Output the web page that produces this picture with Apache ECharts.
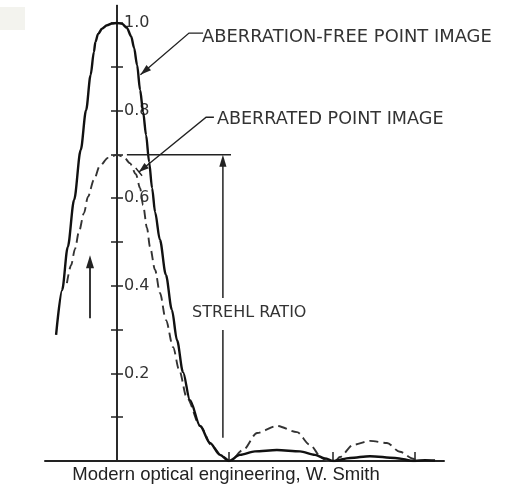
<!DOCTYPE html>
<html>
<head>
<meta charset="utf-8">
<script src="https://cdn.jsdelivr.net/npm/echarts@6/dist/echarts.min.js"></script>
<style>
  html, body { margin: 0; padding: 0; background: #ffffff; }
  #main { width: 506px; height: 486px; }
</style>
</head>
<body>
<div id="main"></div>
<script>
// Radial distance from the image centre (arbitrary units) and relative irradiance.
const freeR = [-2.03, -1.83, -1.64, -1.43, -1.21, -1.03, -0.88, -0.77, -0.72, -0.63, -0.50, -0.33, -0.17, 0.00,
  0.17, 0.33, 0.47, 0.57, 0.67, 0.77, 0.87, 0.97, 1.07, 1.17, 1.27, 1.43, 1.63, 1.83, 2.00, 2.20, 2.43, 2.77, 3.10, 3.43, 3.73,
  4.10, 4.60, 5.33, 6.10, 6.60, 6.93, 7.20,
  7.77, 8.43, 9.27, 9.93, 10.27, 10.60];
const freeI = [0.288, 0.390, 0.489, 0.596, 0.710, 0.801, 0.881, 0.934, 0.957, 0.975, 0.987, 0.995, 0.999, 1.000,
  0.998, 0.989, 0.970, 0.943, 0.904, 0.847, 0.797, 0.744, 0.683, 0.623, 0.568, 0.505, 0.425, 0.345, 0.276, 0.203, 0.139, 0.080, 0.041, 0.014, 0.000,
  0.014, 0.022, 0.025, 0.022, 0.014, 0.006, 0.000,
  0.007, 0.011, 0.007, 0.000, 0.002, 0.001];

const aberR = [-1.67, -1.53, -1.40, -1.27, -1.10, -0.97, -0.77, -0.57, -0.30, 0.00,
  0.23, 0.43, 0.63, 0.77, 0.87, 1.00, 1.10, 1.27, 1.43, 1.63, 1.87, 2.07, 2.33, 2.77, 3.17, 3.50, 3.77,
  4.20, 4.67, 5.33, 6.00, 6.43, 6.83, 7.00,
  7.27, 7.43, 7.87, 8.43, 9.00, 9.43, 9.87, 10.03];
const aberI = [0.406, 0.447, 0.484, 0.523, 0.566, 0.603, 0.642, 0.674, 0.692, 0.699,
  0.694, 0.680, 0.655, 0.623, 0.584, 0.532, 0.489, 0.436, 0.384, 0.322, 0.260, 0.208, 0.144, 0.080, 0.034, 0.011, 0.000,
  0.025, 0.064, 0.080, 0.066, 0.037, 0.007, 0.000,
  0.000, 0.009, 0.037, 0.046, 0.041, 0.021, 0.005, 0.000];

// Axis furniture
const yTickValues = [0.1, 0.2, 0.3, 0.4, 0.5, 0.6, 0.7, 0.8, 0.9, 1.0];
const yLabelValues = [0.2, 0.4, 0.6, 0.8, 1.0];
const zeroCrossings = [3.73, 7.20, 9.93];

const labelFree = 'ABERRATION-FREE POINT IMAGE';
const labelAber = 'ABERRATED POINT IMAGE';
const labelStrehl = 'STREHL RATIO';
const caption = 'Modern optical engineering, W. Smith';

const zip = (a, b) => a.map((v, i) => [v, b[i]]);

const INK = '#222';
const LETTER_FONT = 'DejaVu Sans';

const W = 506;
const GRID = { left: 45, right: 62, top: 5.5, bottom: 25 };
const xRange = { min: -2.4, max: 10.9 };
const yRange = { min: 0, max: 1.04 };

// the intensity axis stands on the image centre (r = 0)
const plotWidth = W - GRID.left - GRID.right;
const centreShift = -(0 - xRange.min) / (xRange.max - xRange.min) * plotWidth;

const chart = echarts.init(document.getElementById('main'), null, { renderer: 'canvas' });

const yAxisBase = {
  type: 'value', min: yRange.min, max: yRange.max, position: 'left', offset: centreShift,
  axisLine: { show: true, onZero: false, lineStyle: { color: INK, width: 1.6 } },
  splitLine: { show: false }
};

chart.setOption({
  animation: false,
  backgroundColor: '#ffffff',
  grid: Object.assign({ containLabel: false, outerBoundsMode: 'none' }, GRID),
  xAxis: {
    type: 'value', min: xRange.min, max: xRange.max, position: 'bottom',
    axisLine: { show: true, onZero: false, lineStyle: { color: INK, width: 2 } },
    axisTick: { show: true, inside: true, length: 9, customValues: zeroCrossings, lineStyle: { color: INK, width: 1.5 } },
    axisLabel: { show: false },
    splitLine: { show: false }
  },
  yAxis: [
    Object.assign({}, yAxisBase, {
      axisTick: { show: true, inside: false, length: 6, customValues: yTickValues, lineStyle: { color: INK, width: 1.5 } },
      axisLabel: {
        show: true, inside: true, margin: 7, customValues: yLabelValues,
        formatter: v => v.toFixed(1),
        fontFamily: LETTER_FONT, fontSize: 16, color: '#333'
      }
    }),
    Object.assign({}, yAxisBase, {
      axisTick: { show: true, inside: true, length: 6, customValues: yTickValues, lineStyle: { color: INK, width: 1.5 } },
      axisLabel: { show: false }
    })
  ],
  series: [
    {
      name: labelFree, type: 'line', yAxisIndex: 0,
      data: zip(freeR, freeI), showSymbol: false, smooth: 0.3, smoothMonotone: 'x',
      lineStyle: { color: '#111', width: 2.4 }, z: 3
    },
    {
      name: labelAber, type: 'line', yAxisIndex: 0,
      data: zip(aberR, aberI), showSymbol: false, smooth: 0.3, smoothMonotone: 'x',
      lineStyle: { color: '#333', width: 1.9, type: [9, 5] }, z: 2
    }
  ]
});

// Annotations placed in data space
const P = (u, v) => chart.convertToPixel({ xAxisIndex: 0, yAxisIndex: 0 }, [u, v]);

function arrowHead(tip, from, len, half) {
  const dx = tip[0] - from[0], dy = tip[1] - from[1];
  const d = Math.hypot(dx, dy);
  const ux = dx / d, uy = dy / d;
  const bx = tip[0] - ux * len, by = tip[1] - uy * len;
  return {
    type: 'polygon', z: 100,
    shape: { points: [tip, [bx - uy * half, by + ux * half], [bx + uy * half, by - ux * half]] },
    style: { fill: INK }
  };
}
const seg = (pts, w) => ({
  type: 'polyline', z: 100,
  shape: { points: pts },
  style: { stroke: INK, lineWidth: w || 1.4, fill: null }
});
const txt = (t, p, size) => ({
  type: 'text', z: 100,
  style: { text: t, x: p[0], y: p[1], fontFamily: LETTER_FONT, fontSize: size, fill: '#333', align: 'left', verticalAlign: 'middle' }
});

const strehl = Math.max(...aberI);
const strehlU = 3.53;

// leader to the aberration-free curve
const fA = P(2.87, 0.977), fB = P(2.40, 0.977), fTip = P(0.78, 0.882);
// leader to the aberrated curve
const aA = P(3.23, 0.785), aB = P(2.97, 0.785), aTip = P(0.73, 0.660);
// Strehl ratio bracket
const sH0 = P(0.33, strehl), sH1 = P(3.80, strehl);
const sTop = P(strehlU, strehl), sGapTop = P(strehlU, 0.372), sGapBot = P(strehlU, 0.299), sBot = P(strehlU, 0.053);
// arrow beside the main lobe
const upBot = P(-0.9, 0.326), upTip = P(-0.9, 0.470);

const dxA = aTip[0] - aB[0], dyA = aTip[1] - aB[1], dA = Math.hypot(dxA, dyA);
const nx = -dyA / dA, ny = dxA / dA;

chart.setOption({
  graphic: [
    { type: 'rect', z: 100, shape: { x: 0, y: 7, width: 25, height: 23 }, style: { fill: '#f3f3ee' } },

    seg([fA, fB, fTip]),
    arrowHead(fTip, fB, 11, 3.5),
    txt(labelFree, P(2.83, 0.968), 17.9),

    seg([aA, aB, aTip]),
    arrowHead(aTip, aB, 10, 3.5),
    seg([[aTip[0] + nx * 5, aTip[1] + ny * 5], [aTip[0] - nx * 5, aTip[1] - ny * 5]], 1.4),
    txt(labelAber, P(3.33, 0.781), 17.6),

    seg([sH0, sH1], 1.5),
    seg([[sTop[0], sTop[1] + 8], sGapTop], 1.5),
    seg([sGapBot, sBot], 1.5),
    arrowHead(sTop, sGapTop, 12, 3.6),
    txt(labelStrehl, P(2.50, 0.338), 16),

    seg([upBot, [upTip[0], upTip[1] + 8]], 1.8),
    arrowHead(upTip, upBot, 13, 4),

    {
      type: 'text', z: 100,
      style: { text: caption, x: 226, y: 475, fontFamily: 'Liberation Sans', fontSize: 18.5, fill: '#222', align: 'center', verticalAlign: 'middle' }
    }
  ]
});
</script>
</body>
</html>
